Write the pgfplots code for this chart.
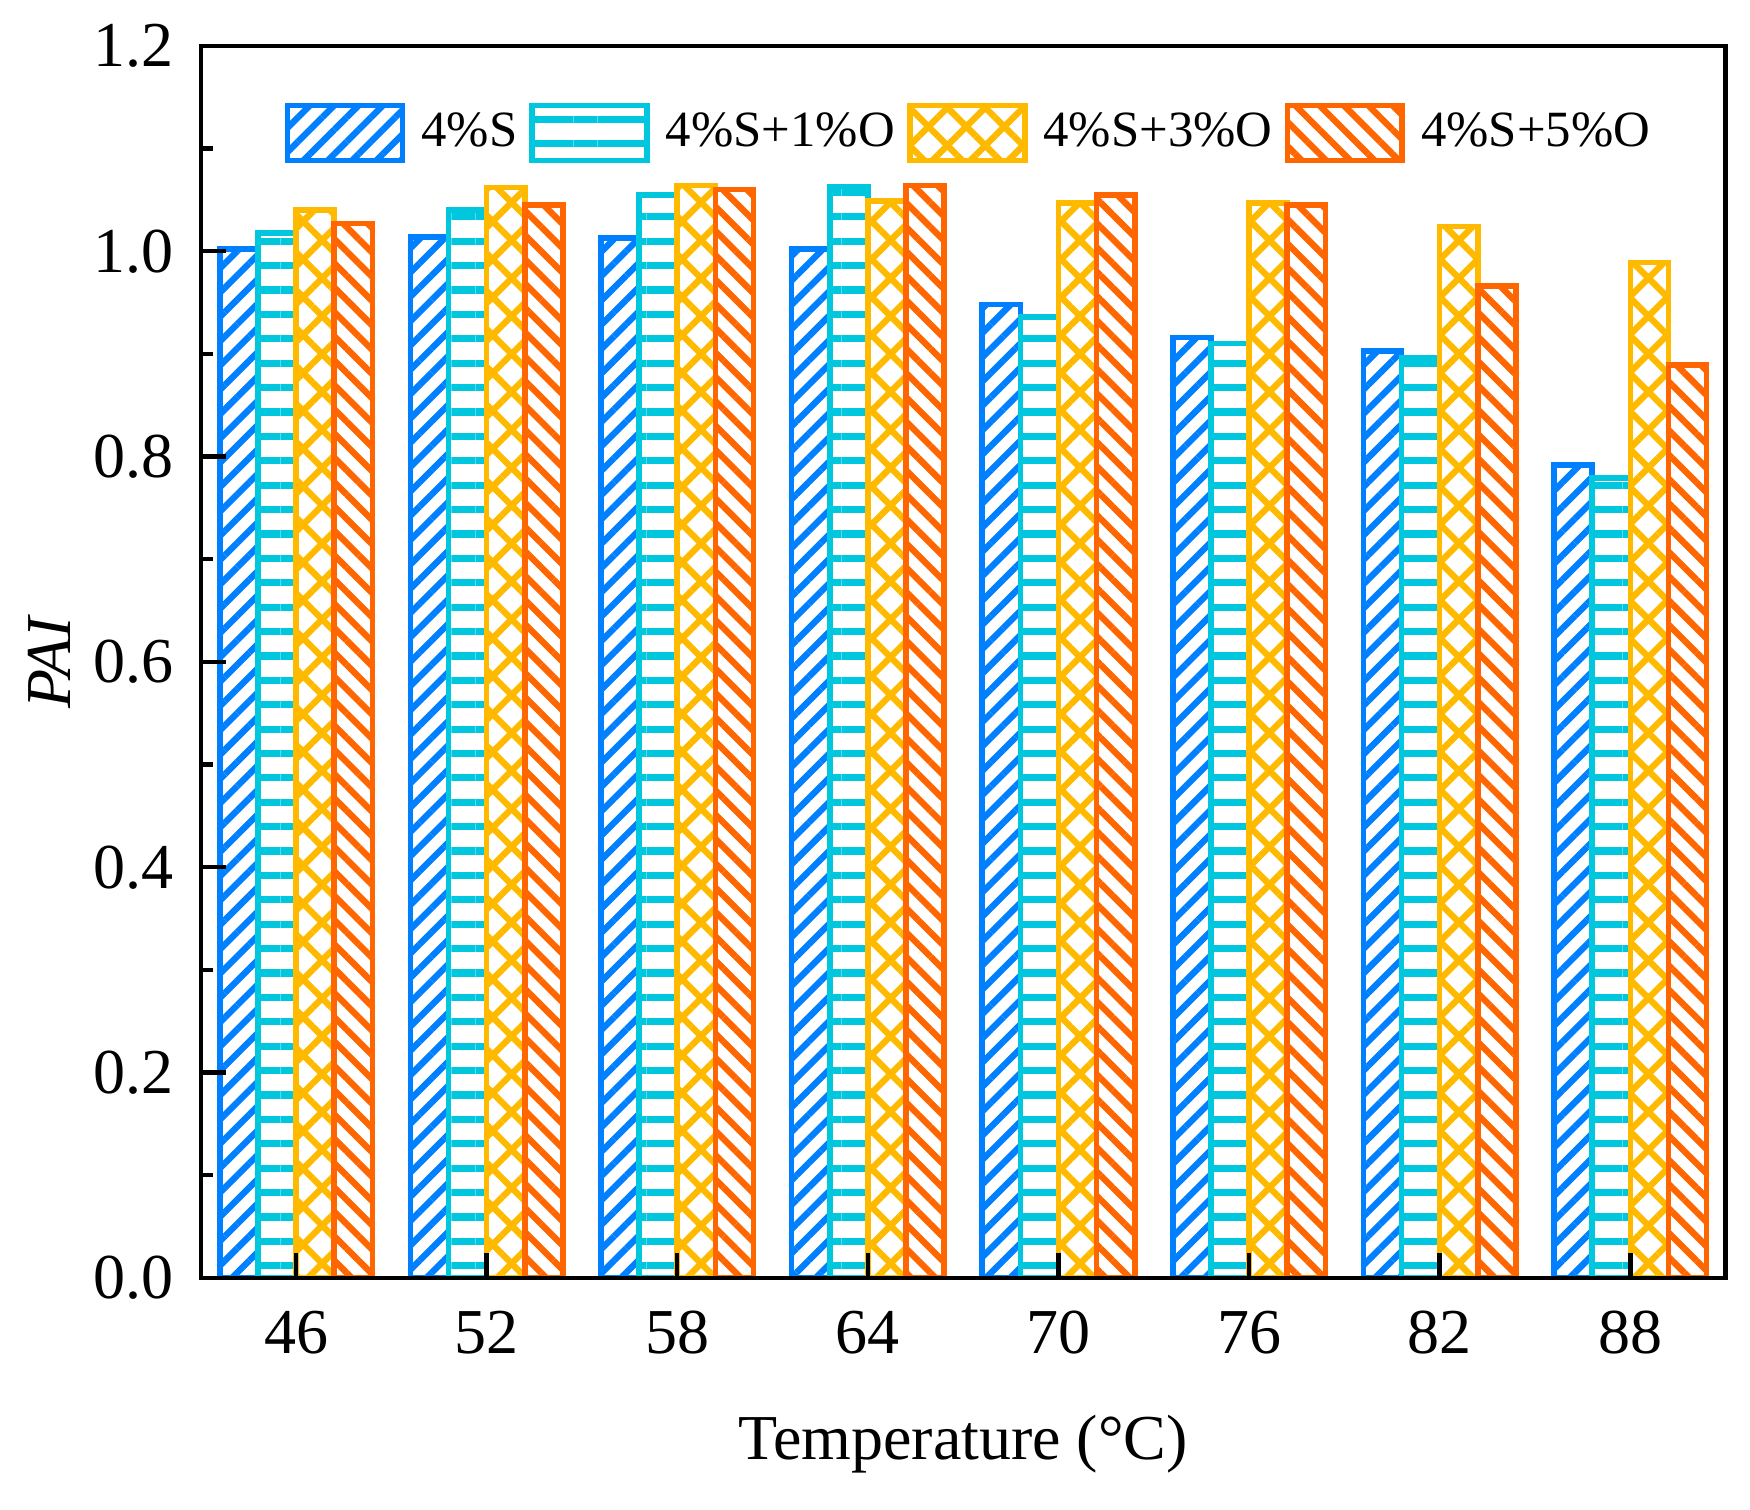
\documentclass[border=0pt]{standalone}
\usepackage{fontspec}
\setmainfont{Liberation Serif}
\usepackage{pgfplots}
\pgfplotsset{compat=1.18}
\usetikzlibrary{patterns.meta}
\definecolor{cblue}{RGB}{0,128,255}
\definecolor{ccyan}{RGB}{0,198,222}
\definecolor{cyellow}{RGB}{255,186,0}
\definecolor{corange}{RGB}{255,102,0}
\pgfplotsset{mybarlegend/.style={legend image code/.code={\draw[##1] (0pt,-6.9pt) rectangle (28.75pt,6.9pt);}}}
\begin{document}
\begin{tikzpicture}
\useasboundingbox (-50.2pt,-58pt) rectangle (387.35pt,319.5pt);
\begin{axis}[
  at={(0,0)}, anchor=south west,
  scale only axis, width=381.25pt, height=308pt,
  xmin=-0.5, xmax=7.5, ymin=0, ymax=1.2,
  xtick={0,1,2,3,4,5,6,7},
  xticklabels={46,52,58,64,70,76,82,88},
  ytick={0,0.2,0.4,0.6,0.8,1.0,1.2},
  minor ytick={0.1,0.3,0.5,0.7,0.9,1.1},
  yticklabel style={/pgf/number format/fixed,/pgf/number format/fixed zerofill,/pgf/number format/precision=1},
  /pgf/number format/assume math mode=true,
  tick align=inside, xtick pos=bottom, ytick pos=left,
  major tick length=6.25pt, minor tick length=3pt,
  every tick/.style={black, line width=1.1pt},
  axis line style={line width=1.1pt},
  axis on top,
  tick label style={font=\fontsize{16}{19}\selectfont},
  xticklabel style={inner sep=0pt, anchor=north, yshift=-8pt},
  yticklabel style={inner sep=0pt, anchor=east, xshift=-6.7pt},
  xlabel={Temperature (°C)},
  xlabel style={font=\fontsize{16}{19}\selectfont, at={(axis description cs:0.5,0)}, anchor=base, yshift=-45.5pt, inner sep=0pt},
  ylabel={\textit{PAI}},
  ylabel style={font=\fontsize{16}{19}\selectfont, at={(axis description cs:-0.0857,0.5)}, anchor=base, inner sep=0pt},
  legend columns=-1,
  legend style={at={(0.0546,0.9294)}, anchor=west, draw=none, fill=none, inner sep=0pt,
    font=\fontsize{12.7}{15}\selectfont,
    nodes={inner sep=0pt},
    /tikz/every odd column/.style={column sep=4pt},
    /tikz/every even column/.style={column sep=3pt}},
]
\addplot[ybar, bar width=0.2, bar shift=-0.3, draw=cblue, line width=1.4pt,
  pattern={Lines[angle=45,distance=4.3pt,line width=1.6pt]}, pattern color=cblue, mybarlegend]
  coordinates {(0,1.002) (1,1.014) (2,1.013) (3,1.002) (4,0.948) (5,0.916) (6,0.903) (7,0.792)};
\addlegendentry{4\%S}
\addplot[ybar, bar width=0.2, bar shift=-0.1, draw=ccyan, line width=1.4pt,
  pattern={Lines[angle=0,distance=6.1pt,line width=1.8pt]}, pattern color=ccyan, mybarlegend]
  coordinates {(0,1.018) (1,1.040) (2,1.055) (3,1.063) (4,0.936) (5,0.910) (6,0.896) (7,0.779)};
\addlegendentry{4\%S+1\%O}
\addplot[ybar, bar width=0.2, bar shift=0.1, draw=cyellow, line width=1.4pt,
  pattern={Hatch[angle=45,distance=6.7pt,line width=1.6pt]}, pattern color=cyellow, mybarlegend]
  coordinates {(0,1.040) (1,1.062) (2,1.064) (3,1.049) (4,1.047) (5,1.047) (6,1.024) (7,0.989)};
\addlegendentry{4\%S+3\%O}
\addplot[ybar, bar width=0.2, bar shift=0.3, draw=corange, line width=1.4pt,
  pattern={Lines[angle=-45,distance=4.3pt,line width=1.6pt]}, pattern color=corange, mybarlegend]
  coordinates {(0,1.027) (1,1.045) (2,1.060) (3,1.064) (4,1.055) (5,1.045) (6,0.966) (7,0.889)};
\addlegendentry{4\%S+5\%O}
\end{axis}
\end{tikzpicture}
\end{document}
